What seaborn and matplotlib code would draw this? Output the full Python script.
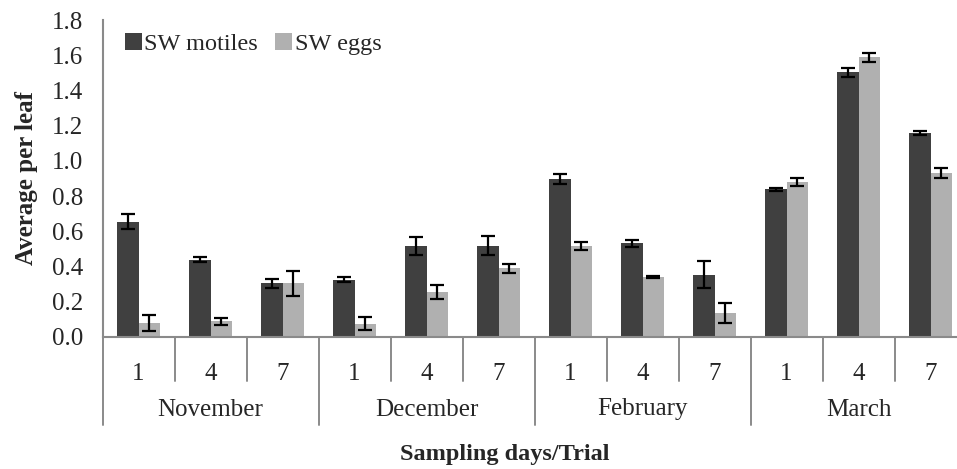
import pandas as pd
import numpy as np
import matplotlib
matplotlib.use('Agg')
import matplotlib.pyplot as plt
import matplotlib.transforms as mtransforms
import seaborn as sns

months = ['November', 'December', 'February', 'March']
days = ['1', '4', '7']
trials = [m + ' ' + d for m in months for d in days]

motiles = [0.655, 0.438, 0.303, 0.324, 0.514, 0.518, 0.895, 0.531, 0.353, 0.838, 1.505, 1.160]
motiles_err = [0.045, 0.013, 0.027, 0.013, 0.052, 0.056, 0.029, 0.020, 0.076, 0.010, 0.027, 0.011]
eggs = [0.077, 0.086, 0.303, 0.074, 0.255, 0.389, 0.514, 0.339, 0.134, 0.880, 1.591, 0.931]
eggs_err = [0.045, 0.020, 0.072, 0.039, 0.040, 0.025, 0.023, 0.003, 0.057, 0.023, 0.026, 0.029]

series = ['SW motiles', 'SW eggs']
colors = ['#404040', '#b0b0b0']

df = pd.DataFrame({
    'trial': trials * 2,
    'series': [series[0]] * len(trials) + [series[1]] * len(trials),
    'value': motiles + eggs,
})

sns.set_style('white')
plt.rcParams['font.family'] = ['Liberation Serif', 'DejaVu Serif']

fig = plt.figure(figsize=(9.57, 4.69), dpi=100)
ax_h = 316.0
ax = fig.add_axes([102.5 / 957, 132.5 / 469, 864 / 957, ax_h / 469])

sns.barplot(data=df, x='trial', y='value', hue='series', order=trials,
            hue_order=series, palette=colors, width=0.61, gap=0,
            errorbar=None, saturation=1, ax=ax, linewidth=0)

for cont, err in zip(ax.containers, [motiles_err, eggs_err]):
    xs = [p.get_x() + p.get_width() / 2 for p in cont.patches]
    ys = [p.get_height() for p in cont.patches]
    ax.errorbar(xs, ys, yerr=err, fmt='none', ecolor='black',
                elinewidth=1.6, capsize=5, capthick=1.6, zorder=5)

ax.set_xlim(-0.5, len(trials) - 0.5)
ax.set_ylim(0, 1.8)
ax.set_yticks(np.arange(0, 1.81, 0.2))
ax.set_yticklabels([f'{v:.1f}' for v in np.arange(0, 1.81, 0.2)], fontsize=18)
ax.tick_params(axis='y', direction='out', length=5, width=1.2, color='#8a8a8a', pad=9)
ax.tick_params(axis='x', length=0, pad=19, labelsize=18)
ax.set_xticks(range(len(trials)))
ax.set_xticklabels(days * len(months))

for s in ['top', 'right']:
    ax.spines[s].set_visible(False)
for s in ['left', 'bottom']:
    ax.spines[s].set_color('#8a8a8a')
    ax.spines[s].set_linewidth(1.5)

# category separators below the axis
trans = mtransforms.blended_transform_factory(ax.transData, ax.transAxes)
for i in range(len(trials) + 1):
    bottom = -88 / ax_h if i % 3 == 0 else -44 / ax_h
    ax.plot([i - 0.5, i - 0.5], [0, bottom], transform=trans, color='#8a8a8a',
            lw=1.4, clip_on=False)
for k, m in enumerate(months):
    ax.text(3 * k + 1, -73 / ax_h, m, transform=trans, ha='center', va='center',
            fontsize=18)

ax.set_xlabel('')
ax.set_ylabel('Average per leaf', fontsize=18, fontweight='bold', labelpad=10)
fig.text(505 / 957, 1 - 454 / 469, 'Sampling days/Trial', ha='center', va='center',
         fontsize=17.5, fontweight='bold')

handles, labels = ax.get_legend_handles_labels()
ax.legend(handles, labels, loc='upper left', bbox_to_anchor=(0.012, 1.0), ncol=2,
          frameon=False, fontsize=17.5, handlelength=0.7, handleheight=0.7,
          handletextpad=0.1, columnspacing=0.7, borderaxespad=0.1)

plt.savefig('out.png', dpi=100)
